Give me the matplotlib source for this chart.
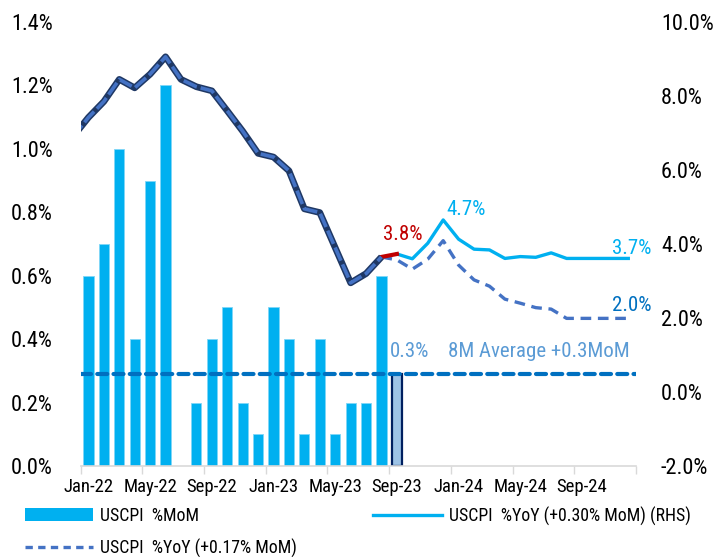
import numpy as np
import matplotlib
matplotlib.use("Agg")
import matplotlib.pyplot as plt
from matplotlib import font_manager
from matplotlib.patches import Patch
from matplotlib.lines import Line2D

# pick a narrow font if one is there
names = {f.name for f in font_manager.fontManager.ttflist}
font = "DejaVu Sans"
for cand in ["Roboto Condensed", "Liberation Sans Narrow", "Roboto"]:
    if cand in names:
        font = cand
        break
plt.rcParams["font.family"] = [font, "DejaVu Sans"]

# months Jan-22 .. Dec-24
months = ["Jan-22", "Feb-22", "Mar-22", "Apr-22", "May-22", "Jun-22", "Jul-22", "Aug-22",
          "Sep-22", "Oct-22", "Nov-22", "Dec-22", "Jan-23", "Feb-23", "Mar-23", "Apr-23",
          "May-23", "Jun-23", "Jul-23", "Aug-23", "Sep-23", "Oct-23", "Nov-23", "Dec-23",
          "Jan-24", "Feb-24", "Mar-24", "Apr-24", "May-24", "Jun-24", "Jul-24", "Aug-24",
          "Sep-24", "Oct-24", "Nov-24", "Dec-24"]

# %MoM bars, Jan-22 .. Aug-23
mom = [0.6, 0.7, 1.0, 0.4, 0.9, 1.2, 0.0, 0.2, 0.4, 0.5, 0.2, 0.1,
       0.5, 0.4, 0.1, 0.4, 0.1, 0.2, 0.2, 0.6]
mom_est = 0.29        # Sep-23 estimate
avg_8m = 0.29         # 8M average line

# %YoY history, Dec-21 .. Aug-23
yoy_hist = [6.9, 7.42, 7.85, 8.45, 8.22, 8.59, 9.06, 8.45, 8.25, 8.14, 7.6, 7.05,
            6.45, 6.35, 5.98, 4.95, 4.85, 3.9, 2.95, 3.2, 3.65]
yoy_sep = 3.73        # Sep-23 estimate
# forecast +0.30% MoM, Sep-23 .. Dec-24
yoy_030 = [3.73, 3.6, 4.02, 4.65, 4.13, 3.86, 3.84, 3.61, 3.66, 3.64, 3.76, 3.61,
           3.61, 3.61, 3.61, 3.61]
# forecast +0.17% MoM, Aug-23 .. Dec-24
yoy_017 = [3.65, 3.57, 3.32, 3.59, 4.09, 3.43, 3.03, 2.86, 2.51, 2.4, 2.28, 2.24,
           1.99, 1.99, 1.99, 1.99, 1.99]

left_ticks = [0.0, 0.2, 0.4, 0.6, 0.8, 1.0, 1.2, 1.4]
right_ticks = [-2, 0, 2, 4, 6, 8, 10]

fig = plt.figure(figsize=(7.22, 5.57), dpi=100)
ax = fig.add_axes([80.7 / 722, 1 - 466 / 557, (636 - 80.7) / 722, (466 - 22) / 557])
ax2 = ax.twinx()

x = np.arange(len(months))
n_hist = len(mom)

ax.bar(x[:n_hist], mom, width=0.66, color="#00B0F0", edgecolor="#7FD6F7", linewidth=0.6, zorder=2)
ax.bar(x[n_hist], mom_est, width=0.66, color="#9DC3E6", edgecolor="#002060", linewidth=1.6, zorder=2)
ax.axhline(avg_8m, color="#0070C0", lw=3, linestyle=(0, (2.4, 1.5)), dash_capstyle="round", zorder=3)

ax.set_xlim(-0.5, len(months) - 0.5)
ax.set_ylim(0, 1.4)
ax.set_yticks(left_ticks)
ax.set_yticklabels([f"{v:.1f}%" for v in left_ticks])

# right axis lines
xh = np.arange(-1, n_hist)
ax2.plot(x[n_hist:], yoy_030, color="#00B0F0", lw=2.4, zorder=3)
ax2.plot(x[n_hist - 1:], yoy_017, color="#4472C4", lw=2.4, linestyle=(0, (3.2, 2.0)), zorder=3)
ax2.plot([n_hist - 1, n_hist], [yoy_hist[-1], yoy_sep], color="#C00000", lw=3, zorder=4)
ax2.plot(xh, yoy_hist, color="#1F3864", lw=4.8, zorder=4, solid_capstyle="butt")
ax2.plot(xh, yoy_hist, color="#4472C4", lw=2.6, linestyle=(0, (4, 1.1)), zorder=5)
ax2.set_ylim(-2, 10)
ax2.set_yticks(right_ticks)
ax2.set_yticklabels([f"{v:.1f}%" for v in right_ticks])

# x ticks: marks on month boundaries, labels every 4 months
ax.set_xticks(np.arange(-0.5, len(months), 4))
ax.set_xticklabels([])
ax.set_xticks(x[::4], minor=True)
ax.set_xticklabels(months[::4], minor=True)
ax.tick_params(axis="x", which="major", length=6, width=1, color="#D9D9D9")
ax.tick_params(axis="x", which="minor", length=0, pad=9, labelsize=13.5, labelcolor="#000000")
ax.tick_params(axis="y", length=0, pad=20, labelsize=16)
ax2.tick_params(axis="y", length=0, pad=18, labelsize=16)

for a in (ax, ax2):
    for s in ["top", "left", "right"]:
        a.spines[s].set_visible(False)
    a.spines["bottom"].set_color("#D9D9D9")
    a.spines["bottom"].set_linewidth(1.2)
ax2.spines["bottom"].set_visible(False)

# labels
ax2.text(19.07, 4.27, "3.8%", color="#C00000", fontsize=15, va="center", ha="left")
ax2.text(23.2, 4.92, "4.7%", color="#00B0F0", fontsize=15, va="center", ha="left")
ax2.text(33.94, 3.89, "3.7%", color="#00B0F0", fontsize=15, va="center", ha="left")
ax2.text(33.94, 2.35, "2.0%", color="#0070C0", fontsize=15, va="center", ha="left")
ax.text(19.55, 0.36, "0.3%", color="#5B9BD5", fontsize=15, va="center", ha="left")
ax.text(23.3, 0.36, "8M Average +0.3MoM", color="#5B9BD5", fontsize=15, va="center", ha="left")

# legend entries placed like the original flow layout
leg_kw = dict(frameon=False, fontsize=12.8, handletextpad=0.4, borderpad=0, borderaxespad=0)
l1 = fig.legend([Patch(facecolor="#00B0F0")], ["USCPI  %MoM"], loc="center left",
                bbox_to_anchor=(25 / 722, 1 - 516 / 557), handlelength=3.8, handleheight=0.75, **leg_kw)
l2 = fig.legend([Line2D([], [], color="#00B0F0", lw=2.4)], ["USCPI  %YoY (+0.30% MoM) (RHS)"],
                loc="center left", bbox_to_anchor=(373 / 722, 1 - 516 / 557), handlelength=3.9, **leg_kw)
l3 = fig.legend([Line2D([], [], color="#4472C4", lw=2.4, linestyle=(0, (2.2, 1.6)))],
                ["USCPI  %YoY (+0.17% MoM)"], loc="center left",
                bbox_to_anchor=(25 / 722, 1 - 548 / 557), handlelength=3.8, **leg_kw)

fig.savefig("out.png", dpi=100)
